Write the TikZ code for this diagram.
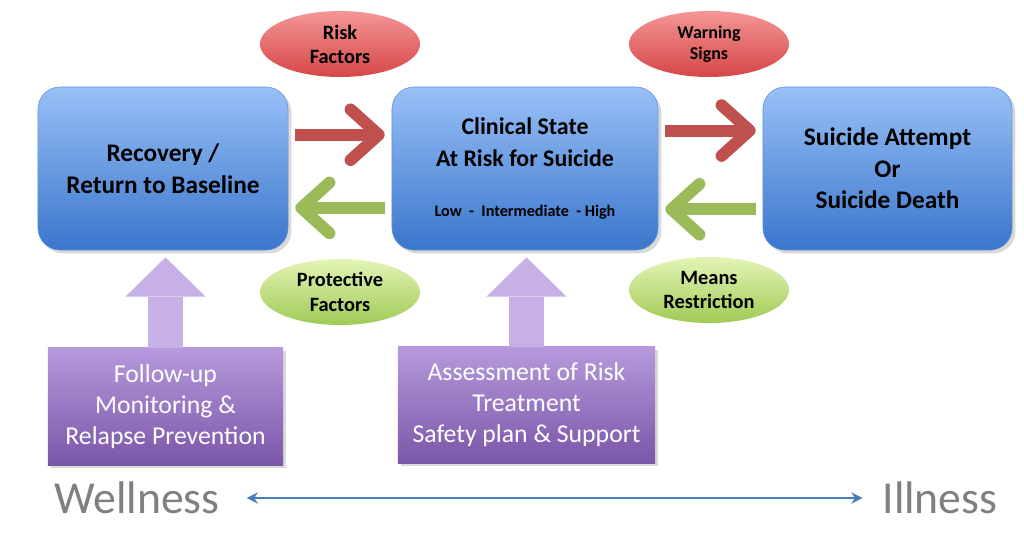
\documentclass[tikz,border=0pt]{standalone}
\usepackage{fontspec}
\setmainfont{Carlito}
\usetikzlibrary{positioning,shapes.geometric,arrows.meta,shadows}

\definecolor{boxtop}{RGB}{152,192,246}
\definecolor{boxbot}{RGB}{58,118,204}
\definecolor{boxline}{RGB}{96,146,214}
\definecolor{redtop}{RGB}{244,150,150}
\definecolor{redbot}{RGB}{214,70,70}
\definecolor{greentop}{RGB}{228,244,182}
\definecolor{greenbot}{RGB}{160,202,85}
\definecolor{redarrow}{RGB}{192,80,77}
\definecolor{greenarrow}{RGB}{155,187,89}
\definecolor{purptop}{RGB}{182,154,220}
\definecolor{purpbot}{RGB}{122,86,168}
\definecolor{purparrow}{RGB}{198,176,230}
\definecolor{spectrumline}{RGB}{74,126,187}
\definecolor{spectrumtext}{RGB}{128,128,128}

\tikzset{
  state/.style={rectangle, rounded corners=0.55cm, draw=boxline, top color=boxtop,
    bottom color=boxbot, minimum height=4.075cm, align=center,
    font=\fontsize{18}{22.5}\selectfont\bfseries, drop shadow={opacity=0.3}},
  riskoval/.style={ellipse, inner sep=0pt, top color=redtop, bottom color=redbot,
    minimum width=4cm, minimum height=1.65cm, align=center,
    font=\fontsize{14.5}{17}\selectfont\bfseries},
  helpoval/.style={ellipse, inner sep=0pt, top color=greentop, bottom color=greenbot,
    minimum width=4cm, minimum height=1.65cm, align=center,
    font=\fontsize{14.5}{17.5}\selectfont\bfseries},
  action/.style={rectangle, top color=purptop, bottom color=purpbot, text=white,
    align=center, font=\fontsize{18.3}{22}\selectfont, drop shadow={opacity=0.3}},
  fwd/.style={draw=redarrow, line width=8.5pt, shorten <=5pt, shorten >=5pt,
    -{Straight Barb[length=20pt,width=36pt,round]}},
  back/.style={draw=greenarrow, line width=8.5pt, shorten <=5pt, shorten >=5pt,
    -{Straight Barb[length=20pt,width=36pt,round]}},
  support/.style={draw=purparrow, line width=25pt, shorten >=5pt,
    -{Triangle[length=28pt,width=57pt,line width=0pt]}},
  spectrum/.style={draw=spectrumline, line width=1.8pt, shorten <=19pt, shorten >=14pt,
    {Stealth[length=8pt,width=8pt]}-{Stealth[length=8pt,width=8pt]}},
  pole/.style={inner sep=0pt, text=spectrumtext, font=\fontsize{32.5}{38}\selectfont}
}

\begin{document}
\begin{tikzpicture}[x=0.025cm, y=-0.025cm]
    \useasboundingbox (0,0) rectangle (1024,540);
    % States
    \node[state, minimum width=6.25cm] (rec) at (163,168.5) {Recovery /\\Return to Baseline};
    \node[state, minimum width=6.65cm, font=\fontsize{17}{22.5}\selectfont\bfseries] (clin) at (525,168.5)
        {Clinical State\\At Risk for Suicide\\[13pt]{\fontsize{11.5}{13}\selectfont Low \ - \ Intermediate \ - High}};
    \node[state, minimum width=6.225cm] (att) at (887.5,168.5) {Suicide Attempt\\Or\\Suicide Death};
    % Factors
    \node[riskoval] (risk) at (340,44) {Risk\\Factors};
    \node[riskoval, font=\fontsize{12.8}{15}\selectfont\bfseries] (warn) at (709,44) {Warning\\Signs};
    \node[helpoval] (prot) at (340,292) {Protective\\Factors};
    \node[helpoval] (means) at (709,290) {Means\\Restriction};
    % Interventions
    \node[action, minimum width=5.875cm, minimum height=2.925cm] (follow) at (165.5,406.5)
        {Follow-up\\Monitoring \&\\Relapse Prevention};
    \node[action, minimum width=6.425cm, minimum height=2.9cm] (assess) at (526.5,405)
        {Assessment of Risk\\Treatment\\Safety plan \& Support};
    % Spectrum
    \node[pole] (well) at (137,498) {Wellness};
    \node[pole] (ill) at (940,498) {Illness};
    % Draw arrows
    \draw[fwd] ([yshift=24pt]rec.east) -- ([yshift=24pt]clin.west);
    \draw[fwd] ([yshift=27pt]clin.east) -- ([yshift=27pt]att.west);
    \draw[back] ([yshift=-28pt]clin.west) -- ([yshift=-28pt]rec.east);
    \draw[back] ([yshift=-29pt]att.west) -- ([yshift=-29pt]clin.east);
    \draw[support] (follow.north) -- (follow.north |- rec.south);
    \draw[support] (assess.north) -- (assess.north |- clin.south);
    \draw[spectrum] (well.east) -- (ill.west);
\end{tikzpicture}
\end{document}
